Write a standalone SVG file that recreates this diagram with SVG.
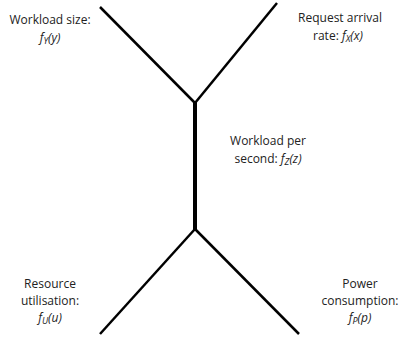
<svg xmlns="http://www.w3.org/2000/svg" width="400" height="341" viewBox="0 0 400 341">
<style>
.lbl{font-family:"Open Sans","Liberation Sans",sans-serif;font-size:12px;fill:#222;text-anchor:middle}
.it{font-style:italic}
.sub{font-size:9px;font-style:italic}
.edge{stroke:#000;stroke-width:2.5;fill:none;stroke-linecap:butt}
.thick{stroke-width:4}
</style>
<rect width="400" height="341" fill="#fff"/>
<g id="connectors">
<line class="edge" x1="100" y1="7" x2="195" y2="103"/>
<line class="edge" x1="277" y1="3" x2="195" y2="103"/>
<line class="edge thick" x1="195" y1="102" x2="195" y2="230"/>
<line class="edge" x1="195" y1="229" x2="100" y2="334"/>
<line class="edge" x1="195" y1="229" x2="299" y2="334"/>
</g>
<g id="workload-size">
<text class="lbl" x="50" y="24">Workload size:</text>
<text class="lbl" x="50" y="42"><tspan class="it">f</tspan><tspan class="sub" dy="2">Y</tspan><tspan class="it" dy="-2">(y)</tspan></text>
</g>
<g id="request-arrival-rate">
<text class="lbl" x="340" y="22">Request arrival</text>
<text class="lbl" x="338" y="40">rate: <tspan class="it">f</tspan><tspan class="sub" dy="2">X</tspan><tspan class="it" dy="-2">(x)</tspan></text>
</g>
<g id="workload-per-second">
<text class="lbl" x="268" y="145">Workload per</text>
<text class="lbl" x="268" y="163">second: <tspan class="it">f</tspan><tspan class="sub" dy="2">Z</tspan><tspan class="it" dy="-2">(z)</tspan></text>
</g>
<g id="resource-utilisation">
<text class="lbl" x="50" y="288">Resource</text>
<text class="lbl" x="50" y="305">utilisation:</text>
<text class="lbl" x="50" y="322"><tspan class="it">f</tspan><tspan class="sub" dy="2">U</tspan><tspan class="it" dy="-2">(u)</tspan></text>
</g>
<g id="power-consumption">
<text class="lbl" x="360" y="288">Power</text>
<text class="lbl" x="360" y="305">consumption:</text>
<text class="lbl" x="360" y="322"><tspan class="it">f</tspan><tspan class="sub" dy="2">P</tspan><tspan class="it" dy="-2">(p)</tspan></text>
</g>
</svg>
